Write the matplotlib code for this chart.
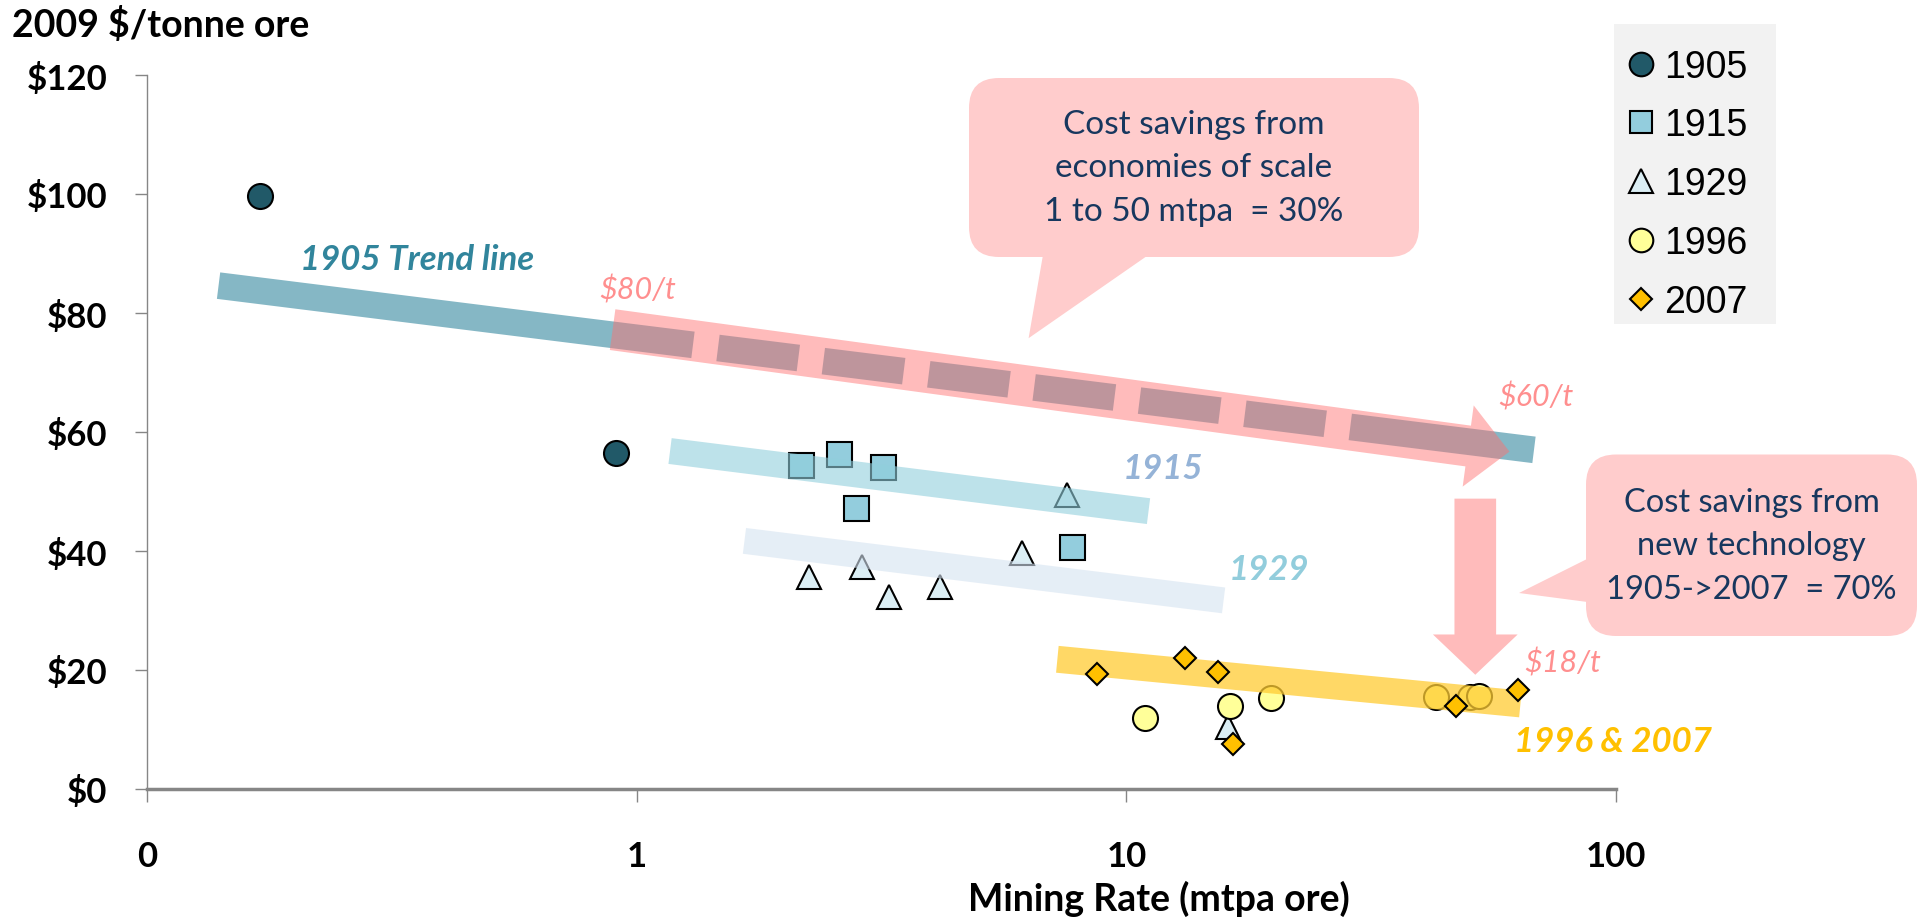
import numpy as np
import matplotlib
matplotlib.use('Agg')
import matplotlib.pyplot as plt
from matplotlib.lines import Line2D
from matplotlib.patches import FancyBboxPatch, Polygon, Rectangle, ArrowStyle

plt.rcParams['font.family'] = ['Lato', 'DejaVu Sans']
plt.rcParams['lines.scale_dashes'] = False
plt.rcParams['text.parse_math'] = False

# ---- data (mining rate in mtpa, cost in 2009 $/t) ----
x_1905 = [0.17, 0.906]
y_1905 = [99.6, 56.5]
x_1915 = [2.17, 2.59, 3.18, 2.80, 7.74]
y_1915 = [54.4, 56.3, 54.1, 47.3, 40.7]
x_1929 = [2.25, 2.89, 3.28, 4.16, 6.12, 7.57, 16.1]
y_1929 = [35.7, 37.3, 32.2, 34.0, 39.6, 49.4, 10.5]
x_1996 = [10.9, 16.3, 19.7, 42.8, 50.3, 52.5]
y_1996 = [12.0, 14.0, 15.3, 15.4, 15.4, 15.6]
x_2007 = [8.7, 13.2, 15.4, 16.5, 47.2, 63.0]
y_2007 = [19.4, 22.0, 19.7, 7.6, 13.9, 16.7]

# trend bands (end points)
trend_1905_x = [0.14, 68.0]
trend_1905_y = [84.6, 57.0]
trend_1915_x = [1.17, 11.1]
trend_1915_y = [56.8, 46.7]
trend_1929_x = [1.66, 15.8]
trend_1929_y = [41.7, 31.7]
trend_2007_x = [7.23, 63.8]
trend_2007_y = [21.8, 14.3]

# arrows
scale_arrow_x = [0.893, 60.6]
scale_arrow_y = [77.2, 56.7]
tech_arrow_x = [51.6, 51.6]
tech_arrow_y = [48.8, 19.2]

yticks = [0, 20, 40, 60, 80, 100, 120]
ytick_labels = ['$0', '$20', '$40', '$60', '$80', '$100', '$120']
xticks = [0.1, 1, 10, 100]
xtick_labels = ['0', '1', '10', '100']

legend_labels = ['1905', '1915', '1929', '1996', '2007']

callout1 = ['Cost savings from', 'economies of scale', '1 to 50 mtpa  = 30%']
callout2 = ['Cost savings from', 'new technology', '1905->2007  = 70%']

# ---- colours ----
c1905, c1915, c1929, c1996, c2007 = '#215968', '#93cddd', '#dbeef4', '#ffff99', '#ffc000'
teal = '#85b7c5'
pink = (1.0, 0.44, 0.44)
callout_fill = '#ffcccc'
navy = '#17375e'
grey = '#868686'

fig = plt.figure(figsize=(19.2, 9.2), dpi=100)
ax = fig.add_axes([147 / 1920, 130 / 920, (1616 - 147) / 1920, 714 / 920])
ax.set_xscale('log')
ax.set_xlim(0.1, 100)
ax.set_ylim(0, 120)
ax.minorticks_off()
for s in ['top', 'right']:
    ax.spines[s].set_visible(False)
ax.spines['left'].set_color(grey)
ax.spines['left'].set_linewidth(1)
ax.spines['bottom'].set_color(grey)
ax.spines['bottom'].set_linewidth(2.5)

ax.set_yticks(yticks, ytick_labels, fontsize=25, fontweight='bold')
ax.set_xticks(xticks, xtick_labels, fontsize=25, fontweight='bold')
ax.tick_params(axis='y', length=8.6, width=1, color=grey, pad=20)
ax.tick_params(axis='x', length=9.7, width=1, color=grey, pad=27)

# ---- 1905 trend line: solid, dashed under the arrow, solid again ----
p0 = ax.transData.transform((trend_1905_x[0], trend_1905_y[0]))
p1 = ax.transData.transform((trend_1905_x[1], trend_1905_y[1]))
cos_t = (p1[0] - p0[0]) / np.hypot(*(p1 - p0))
xa = ax.transData.transform((scale_arrow_x[0], 50))[0]
dash, gap = 81.0, 25.2
on0 = (xa - p0[0]) / cos_t + dash
pattern = [on0]
for k in range(7):
    pattern += [gap, dash]
pattern[-1] = 2000
ax.plot(trend_1905_x, trend_1905_y, color=teal, lw=19.2, solid_capstyle='butt',
        dash_capstyle='butt', linestyle=(0, [v * 0.72 for v in pattern]), zorder=2)

# other trend bands
ax.plot(trend_1915_x, trend_1915_y, color='#91cfdc', alpha=0.6, lw=18.7,
        solid_capstyle='butt', zorder=4)
ax.plot(trend_1929_x, trend_1929_y, color='#d5e3f1', alpha=0.6, lw=18.7,
        solid_capstyle='butt', zorder=4)
ax.plot(trend_2007_x, trend_2007_y, color='#ffcc33', alpha=0.75, lw=19.4,
        solid_capstyle='butt', zorder=4)

# ---- markers ----
mk = dict(linestyle='none', markeredgecolor='black', markeredgewidth=1.5)
ax.plot(x_1905, y_1905, marker='o', markersize=18, markerfacecolor=c1905, zorder=3, **mk)
ax.plot(x_1915, y_1915, marker='s', markersize=18, markerfacecolor=c1915, zorder=3, **mk)
ax.plot(x_1929, y_1929, marker='^', markersize=17.5, markerfacecolor=c1929, zorder=3, **mk)
ax.plot(x_1996, y_1996, marker='o', markersize=18, markerfacecolor=c1996, zorder=3, **mk)
ax.plot(x_2007, y_2007, marker='D', markersize=11.2, markerfacecolor=c2007, zorder=5, **mk)

# ---- arrows ----
ax.annotate('', xy=(scale_arrow_x[1], scale_arrow_y[1]),
            xytext=(scale_arrow_x[0], scale_arrow_y[0]),
            arrowprops=dict(arrowstyle=ArrowStyle.Simple(head_length=30, head_width=59, tail_width=29.6),
                            mutation_scale=1, facecolor=pink, edgecolor='none', alpha=0.475,
                            shrinkA=0, shrinkB=0), zorder=6)
ax.annotate('', xy=(tech_arrow_x[1], tech_arrow_y[1]),
            xytext=(tech_arrow_x[0], tech_arrow_y[0]),
            arrowprops=dict(arrowstyle=ArrowStyle.Simple(head_length=29, head_width=61, tail_width=30),
                            mutation_scale=1, facecolor=pink, edgecolor='none', alpha=0.475,
                            shrinkA=0, shrinkB=0), zorder=6)

# ---- labels in the plot ----
lab = dict(fontsize=25, fontweight='bold', style='italic', va='center', ha='left',
           zorder=7, clip_on=False)
ax.text(0.205, 89.1, '1905 Trend line', color='#31859c', **lab)
ax.text(9.85, 53.9, '1915', color='#95b3d7', **lab)
ax.text(16.2, 36.9, '1929', color='#92cddc', **lab)
ax.text(62.0, 8.0, '1996 & 2007', color='#ffc000', **lab)
for xx, yy, t in [(0.84, 84.0, '$80/t'), (57.4, 66.1, '$60/t'), (64.9, 21.4, '$18/t')]:
    ax.text(xx, yy, t, color='#ff8f8f', fontsize=22, style='italic',
            va='center', ha='left', zorder=7, clip_on=False)

# ---- callouts (figure pixels) ----
def px(x, y):
    return (x / 100, (920 - y) / 100)

tr = fig.dpi_scale_trans
for (bx0, by0, bx1, by1), tail, lines, fs in [
        ((969, 79, 1419, 258), [(1044, 250), (1157, 250), (1028.6, 339.2)], callout1, 24),
        ((1586, 455.5, 1917, 637), [(1595, 556), (1595, 604), (1519, 594)], callout2, 23.5)]:
    fig.add_artist(FancyBboxPatch(px(bx0, by1), (bx1 - bx0) / 100, (by1 - by0) / 100,
                                  boxstyle='round,pad=0,rounding_size=0.30',
                                  facecolor=callout_fill, edgecolor='none', transform=tr))
    fig.add_artist(Polygon([px(*p) for p in tail], closed=True, facecolor=callout_fill,
                           edgecolor='none', transform=tr))
    cx, cy = (bx0 + bx1) / 2, (by0 + by1) / 2
    for i, line in enumerate(lines):
        fig.text(*px(cx, cy + (i - 1) * 43.5), line, transform=tr, ha='center', va='center',
                 color=navy, fontsize=fs)

# ---- legend ----
fig.add_artist(Rectangle(px(1614, 324.5), 1.62, 3.0, facecolor='#f2f2f2',
                         edgecolor='none', transform=tr))
handles = [
    Line2D([], [], marker='o', markersize=17, markerfacecolor=c1905, **mk),
    Line2D([], [], marker='s', markersize=16.5, markerfacecolor=c1915, **mk),
    Line2D([], [], marker='^', markersize=17, markerfacecolor=c1929, **mk),
    Line2D([], [], marker='o', markersize=17, markerfacecolor=c1996, **mk),
    Line2D([], [], marker='D', markersize=11, markerfacecolor=c2007, **mk),
]
fig.legend(handles, legend_labels, loc='upper left', bbox_to_anchor=(1614 / 1920, 1 - 24.5 / 920),
           frameon=False, borderaxespad=0, borderpad=0.67, labelspacing=0.61,
           handlelength=0.11, handletextpad=0.55,
           prop={'family': ['Liberation Sans', 'DejaVu Sans'], 'size': 27})

# ---- axis titles ----
fig.text(12 / 1920, 1 - 25 / 920, '2009 $/tonne ore', fontsize=27, fontweight='bold',
         ha='left', va='center')
fig.text(1159 / 1920, 9 / 920, 'Mining Rate (mtpa ore)', fontsize=27, fontweight='bold',
         ha='center', va='baseline')

fig.savefig('out.png', dpi=100)
